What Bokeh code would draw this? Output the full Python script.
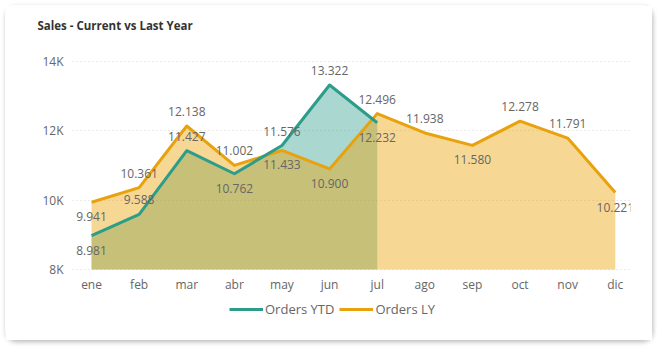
from bokeh.plotting import figure
from bokeh.layouts import column
from bokeh.models import ColumnDataSource, FixedTicker, Legend, LegendItem, Range1d
from bokeh.embed import file_html
from bokeh.resources import INLINE
from bokeh.core.properties import value

months = ["ene", "feb", "mar", "abr", "may", "jun", "jul", "ago", "sep", "oct", "nov", "dic"]
orders_ytd = [8981, 9588, 11427, 10762, 11576, 13322, 12232]
orders_ly = [9941, 10361, 12138, 11002, 11433, 10900, 12496, 11938, 11580, 12278, 11791, 10221]
y_ticks = [8000, 10000, 12000, 14000]
y_tick_labels = ["8K", "10K", "12K", "14K"]
ytd_label_side = ["below", "above", "above", "below", "above", "above", "below"]
ly_label_side = ["below", "above", "above", "above", "below", "below", "above", "above", "below", "above", "above", "below"]

FONT = "Open Sans"
TEAL = "#2C9C8B"
ORANGE = "#E8A20E"
BASE = 8000

def fmt(v):
    return f"{v:,}".replace(",", ".")

x_ytd = list(range(len(orders_ytd)))
x_ly = list(range(len(orders_ly)))

p = figure(width=647, height=291, output_backend="svg", toolbar_location=None,
           x_range=Range1d(-0.4, 11.32), y_range=Range1d(7943, 14114),
           min_border_left=67, min_border_right=22, min_border_top=50, min_border_bottom=25,
           background_fill_color="white", border_fill_color="white")
p.outline_line_color = None
p.xgrid.visible = False
p.ygrid.grid_line_color = "#D4D4D4"
p.ygrid.grid_line_dash = "1 3"
p.ygrid.ticker = FixedTicker(ticks=y_ticks)

p.title.text = "Sales - Current vs Last Year\n "
p.title.align = "left"
p.title.offset = -35
p.title.standoff = 20
p.title.text_font = FONT
p.title.text_font_size = "11.5px"
p.title.text_font_style = "bold"
p.title.text_color = "#333333"

for ax in (p.xaxis[0], p.yaxis[0]):
    ax.axis_line_color = None
    ax.major_tick_line_color = None
    ax.minor_tick_line_color = None
    ax.major_tick_out = 0
    ax.major_tick_in = 0
    ax.major_label_text_font = FONT
    ax.major_label_text_font_size = "12px"
    ax.major_label_text_color = "#666666"

p.xaxis.ticker = FixedTicker(ticks=x_ly)
p.xaxis.major_label_overrides = {i: m for i, m in enumerate(months)}
p.xaxis.major_label_standoff = 4
p.yaxis.ticker = FixedTicker(ticks=y_ticks)
p.yaxis.major_label_overrides = {t: l for t, l in zip(y_ticks, y_tick_labels)}
p.yaxis.major_label_standoff = 9

src_ytd = ColumnDataSource(dict(x=x_ytd, y=orders_ytd, base=[BASE] * len(orders_ytd)))
src_ly = ColumnDataSource(dict(x=x_ly, y=orders_ly, base=[BASE] * len(orders_ly)))

p.varea(x="x", y1="base", y2="y", source=src_ytd, fill_color=TEAL, fill_alpha=0.4)
p.varea(x="x", y1="base", y2="y", source=src_ly, fill_color="#EBA000", fill_alpha=0.42)
p.line("x", "y", source=src_ly, line_color=ORANGE, line_width=3, line_join="round")
p.line("x", "y", source=src_ytd, line_color=TEAL, line_width=3, line_join="round")

def add_labels(xs, ys, sides):
    for side, off in (("above", -14.5), ("below", 14.5)):
        sel = [i for i, s in enumerate(sides) if s == side]
        src = ColumnDataSource(dict(x=[xs[i] for i in sel], y=[ys[i] for i in sel],
                                    t=[fmt(ys[i]) for i in sel]))
        p.text(x="x", y="y", text="t", source=src, y_offset=off, text_align="center",
               text_baseline="middle", text_font=value(FONT), text_font_size="12px",
               text_color="#666666")

add_labels(x_ytd, orders_ytd, ytd_label_side)
add_labels(x_ly, orders_ly, ly_label_side)

# legend strip below the chart (key lines lie outside its visible range)
lf = figure(width=647, height=44, output_backend="svg", toolbar_location=None,
            x_range=Range1d(0, 1), y_range=Range1d(0, 1),
            x_axis_location=None, y_axis_location=None, min_border=0,
            background_fill_color="white", border_fill_color="white")
lf.outline_line_color = None
lf.grid.visible = False
key_src = ColumnDataSource(dict(x=[-2, -1], y=[-2, -2]))
ytd_key = lf.line("x", "y", source=key_src, line_color=TEAL, line_width=3)
ly_key = lf.line("x", "y", source=key_src, line_color=ORANGE, line_width=3)
legend = Legend(items=[LegendItem(label="Orders YTD", renderers=[ytd_key]),
                       LegendItem(label="Orders LY", renderers=[ly_key])],
                orientation="horizontal", location=(155, 19),
                border_line_alpha=0, background_fill_alpha=0,
                label_text_font=FONT, label_text_font_size="13px", label_text_color="#666666",
                glyph_width=34, label_standoff=2, spacing=5, padding=2, margin=0)
lf.add_layout(legend)

layout = column(p, lf, spacing=0,
                styles={"background-color": "white", "border-radius": "10px",
                        "box-shadow": "1px 2px 5px rgba(0,0,0,0.28)",
                        "transform": "translate(5px, 5px)"})

open("out.html", "w").write(file_html(layout, INLINE))
